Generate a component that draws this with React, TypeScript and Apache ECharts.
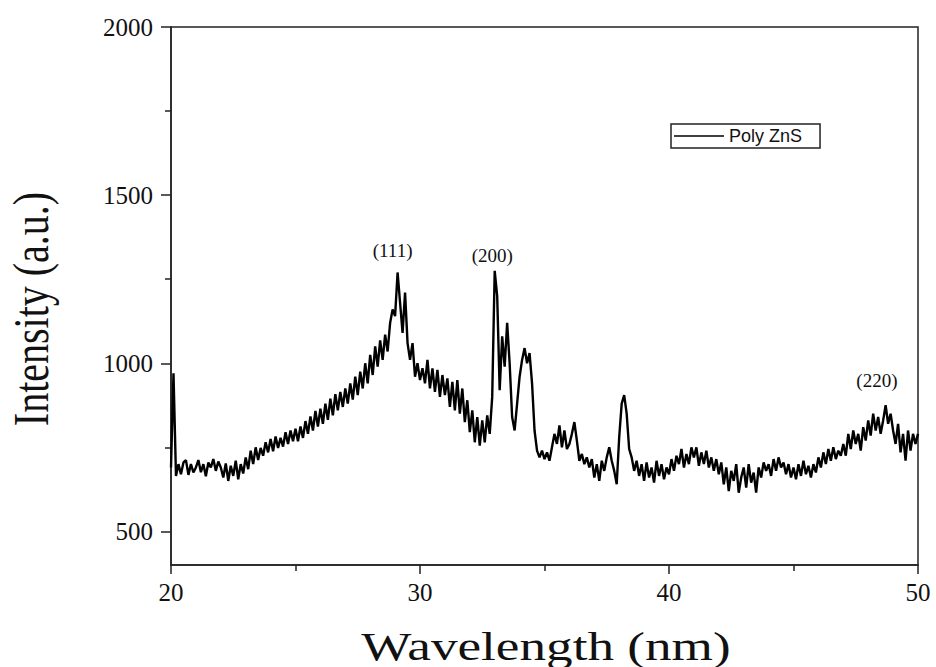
import React, { useEffect, useRef } from "react";
import * as echarts from "echarts";

// 2-theta sampling grid (deg)
const X_START = 20;
const X_STEP = 0.1;

// Intensity readings, 10 per degree (20.0 ... 50.0)
const intensity20to25 = [
  690, 970, 665, 700, 670, 705, 712, 668, 700, 675,
  690, 712, 676, 700, 664, 705, 690, 715, 680, 708,
  690, 660, 702, 650, 695, 665, 710, 655, 700, 672,
  720, 685, 740, 700, 750, 712, 748, 725, 765, 735,
  775, 738, 782, 748, 778, 752, 795, 760, 800, 768,
];
const intensity25to30 = [
  805, 768, 812, 778, 828, 790, 842, 800, 858, 812,
  865, 820, 880, 832, 895, 845, 908, 860, 915, 870,
  925, 880, 940, 892, 960, 905, 975, 925, 1000, 940,
  1025, 965, 1050, 990, 1068, 1010, 1085, 1035, 1120, 1160,
  1140, 1270, 1180, 1090, 1210, 1060, 1010, 1060, 960, 1000,
];
const intensity30to35 = [
  950, 985, 940, 1010, 925, 985, 915, 980, 900, 965,
  905, 955, 870, 945, 860, 950, 850, 925, 825, 890,
  795, 860, 765, 840, 755, 830, 765, 845, 790, 900,
  1275, 1200, 920, 1080, 990, 1120, 1000, 840, 800, 880,
  960, 1010, 1045, 1000, 1030, 940, 800, 740, 720, 740,
];
const intensity35to40 = [
  715, 735, 710, 750, 790, 760, 815, 750, 800, 745,
  760, 790, 825, 770, 710, 730, 700, 720, 690, 715,
  660, 700, 650, 710, 680, 720, 750, 710, 680, 640,
  780, 880, 905, 850, 745, 720, 680, 710, 665, 700,
  650, 705, 660, 690, 645, 710, 665, 700, 655, 690,
];
const intensity40to45 = [
  670, 715, 680, 725, 700, 745, 690, 730, 700, 750,
  720, 750, 695, 735, 700, 740, 690, 720, 680, 715,
  670, 705, 640, 690, 620, 680, 650, 700, 615, 660,
  690, 630, 700, 645, 675, 615, 690, 660, 705, 680,
  700, 665, 715, 680, 720, 690, 705, 670, 700, 660,
];
const intensity45to50 = [
  690, 655, 700, 665, 710, 670, 695, 660, 700, 675,
  720, 690, 735, 700, 745, 710, 750, 715, 740, 725,
  760, 725, 790, 745, 800, 760, 790, 740, 810, 770,
  830, 785, 850, 800, 840, 790, 830, 875, 820, 850,
  800, 760, 820, 735, 790, 710, 800, 740, 790, 760,
  790,
];

const yMajorTicks = [500, 1000, 1500, 2000];
const yMinorTicks = [750, 1250, 1750];

const peakLabels = ["(111)", "(200)", "(220)"];
const peakLabelX = [28.9, 32.9, 48.35];
const peakLabelY = [1335, 1320, 950];

const seriesName = "Poly ZnS";
const xTitle = "Wavelength (nm)";
const yTitle = "Intensity (a.u.)";

const SERIF = "'Liberation Serif', 'Times New Roman', serif";
const SANS = "'Liberation Sans', Arial, sans-serif";

export default function App() {
  const ref = useRef<HTMLDivElement>(null);

  useEffect(() => {
    if (!ref.current) return;
    const chart = echarts.init(ref.current, null, { renderer: "svg" });

    const all = [
      ...intensity20to25,
      ...intensity25to30,
      ...intensity30to35,
      ...intensity35to40,
      ...intensity40to45,
      ...intensity45to50,
    ];
    const data = all.map((v, i) => [Number((X_START + i * X_STEP).toFixed(1)), v]);

    const axisColor = "#222";
    const labelStyle = { fontFamily: SERIF, fontSize: 25, color: "#111" };
    const plain = (v: number) => String(v);

    chart.setOption({
      animation: false,
      backgroundColor: "#fff",
      grid: {
        left: 171,
        right: 18,
        top: 27,
        bottom: 102,
        show: true,
        borderColor: axisColor,
        borderWidth: 1.5,
        backgroundColor: "transparent",
      },
      legend: {
        show: true,
        data: [{ name: seriesName, icon: "rect" }],
        left: 671,
        top: 124,
        orient: "horizontal",
        itemWidth: 50,
        itemHeight: 1.5,
        padding: [3, 18, 3, 3],
        borderColor: "#222",
        borderWidth: 1.5,
        borderRadius: 0,
        backgroundColor: "#fff",
        textStyle: { fontFamily: SANS, fontSize: 18, color: "#111" },
      },
      xAxis: {
        type: "value",
        min: 20,
        max: 50,
        interval: 10,
        axisLine: { show: true, lineStyle: { color: axisColor, width: 1.5 } },
        axisTick: { show: true, inside: false, length: 9, lineStyle: { color: axisColor, width: 1.5 } },
        minorTick: { show: true, splitNumber: 2, length: 6, lineStyle: { color: axisColor, width: 1.5 } },
        axisLabel: { ...labelStyle, margin: 15, formatter: plain },
        splitLine: { show: false },
        minorSplitLine: { show: false },
      },
      yAxis: [
        {
          type: "value",
          min: 400,
          max: 2000,
          position: "left",
          axisLine: { show: true, lineStyle: { color: axisColor, width: 1.5 } },
          axisTick: {
            show: true,
            inside: false,
            length: 10,
            customValues: yMajorTicks,
            lineStyle: { color: axisColor, width: 1.5 },
          },
          axisLabel: { ...labelStyle, margin: 18, customValues: yMajorTicks, formatter: plain },
          splitLine: { show: false },
        },
        {
          type: "value",
          min: 400,
          max: 2000,
          position: "left",
          offset: 0,
          axisLine: { show: false },
          axisTick: {
            show: true,
            inside: false,
            length: 6,
            customValues: yMinorTicks,
            lineStyle: { color: axisColor, width: 1.5 },
          },
          axisLabel: { show: false },
          splitLine: { show: false },
        },
      ],
      series: [
        {
          name: seriesName,
          type: "line",
          data,
          symbol: "none",
          showSymbol: false,
          color: "#000",
          lineStyle: { color: "#000", width: 2.4 },
          markPoint: {
            symbol: "circle",
            symbolSize: 1,
            itemStyle: { color: "rgba(0,0,0,0)" },
            label: {
              show: true,
              position: "inside",
              formatter: "{b}",
              fontFamily: SERIF,
              fontSize: 19,
              color: "#111",
            },
            data: peakLabels.map((name, i) => ({ name, coord: [peakLabelX[i], peakLabelY[i]] })),
          },
        },
      ],
      graphic: [
        {
          type: "text",
          x: 546,
          y: 646,
          scaleX: 1.33,
          style: {
            text: xTitle,
            fontFamily: SERIF,
            fontSize: 40,
            fill: "#111",
            textAlign: "center",
            textVerticalAlign: "middle",
          },
        },
        {
          type: "text",
          x: 31,
          y: 309,
          rotation: Math.PI / 2,
          scaleY: 1.25,
          style: {
            text: yTitle,
            fontFamily: SERIF,
            fontSize: 40,
            fill: "#111",
            textAlign: "center",
            textVerticalAlign: "middle",
          },
        },
      ],
    });

    return () => chart.dispose();
  }, []);

  return (
    <div
      ref={ref}
      style={{ position: "fixed", left: 0, top: 0, width: 936, height: 667, background: "#fff" }}
    />
  );
}
